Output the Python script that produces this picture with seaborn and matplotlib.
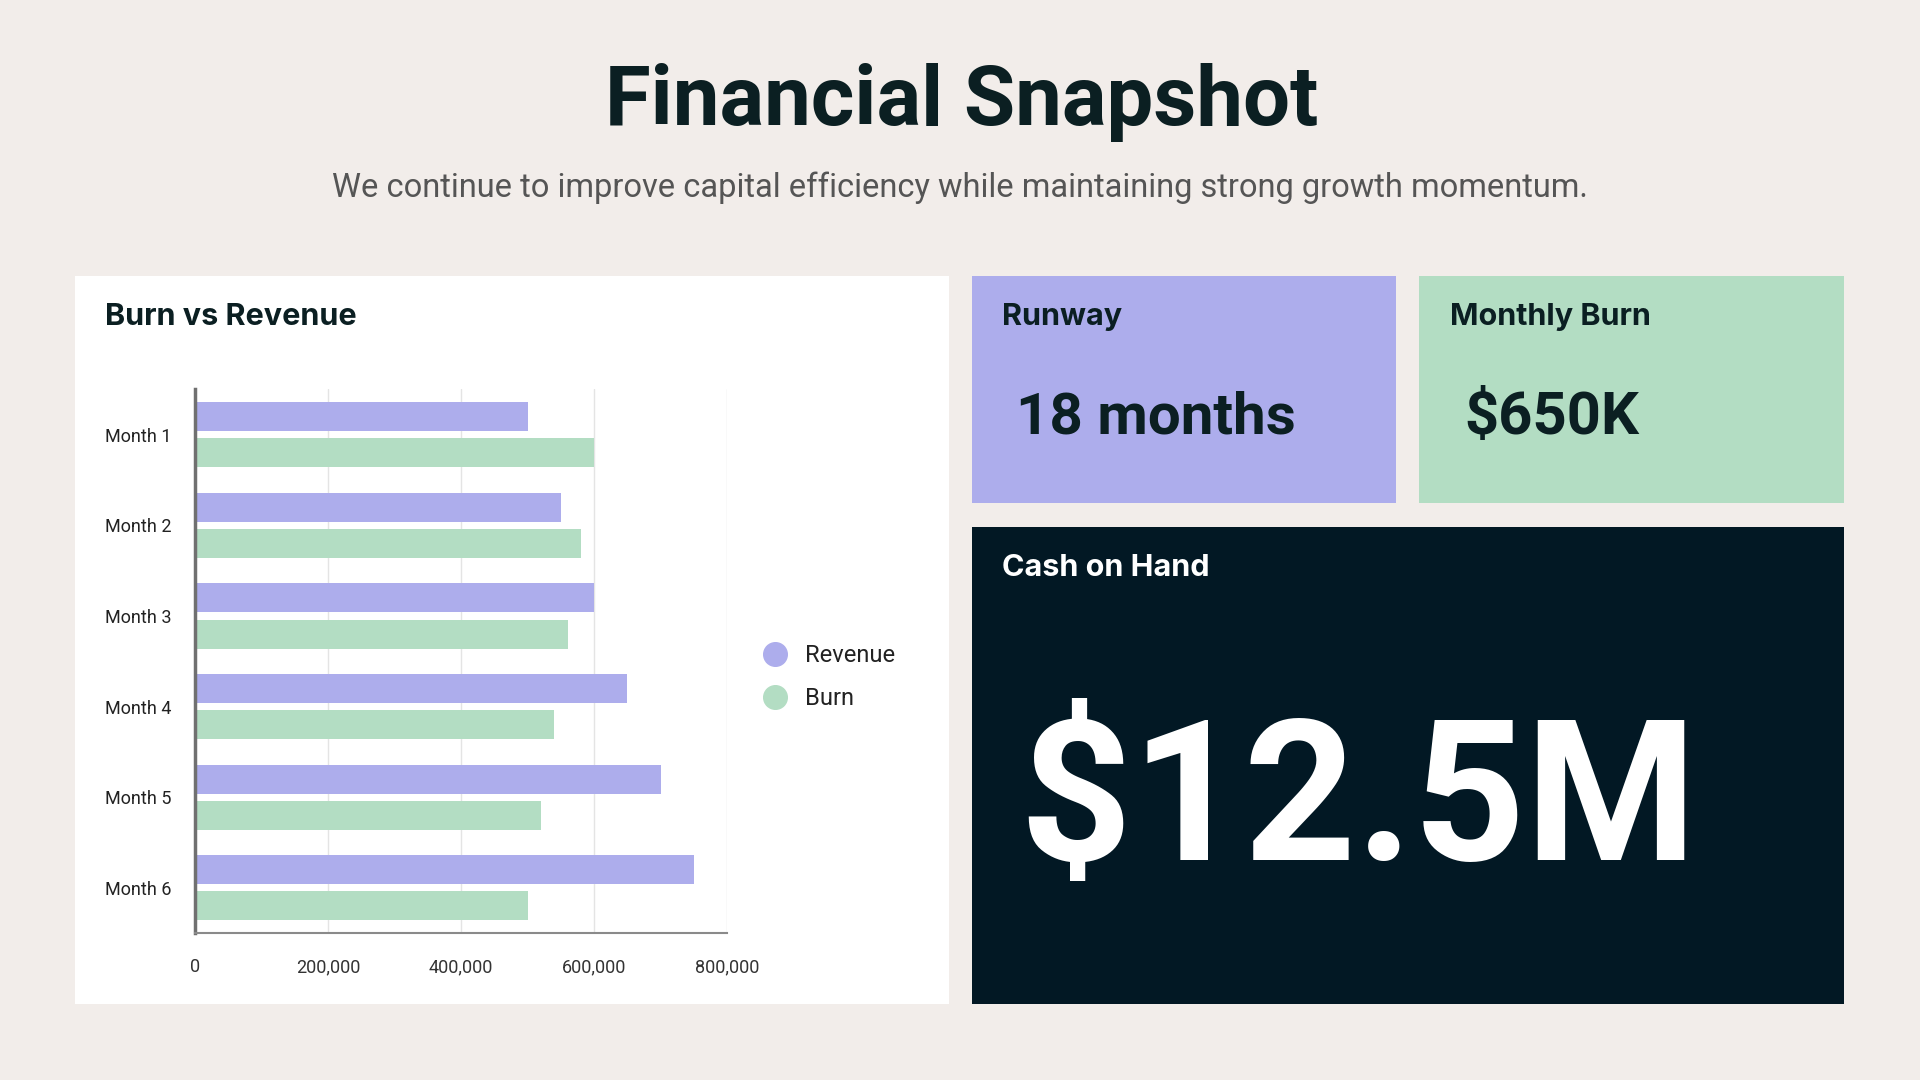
import pandas as pd
import seaborn as sns
import matplotlib.pyplot as plt
from matplotlib.patches import Rectangle
from matplotlib.lines import Line2D

months = ["Month 1", "Month 2", "Month 3", "Month 4", "Month 5", "Month 6"]
revenue = [500000, 550000, 600000, 650000, 700000, 750000]
burn = [600000, 580000, 560000, 540000, 520000, 500000]
x_ticks = [0, 200000, 400000, 600000, 800000]

title = "Financial Snapshot"
subtitle = "We continue to improve capital efficiency while maintaining strong growth momentum."
runway_value = "18 months"
monthly_burn_value = "$650K"
cash_value = "$12.5M"

bg_col = "#F2EDEA"
purple = "#ADADEC"
green = "#B3DDC3"
navy = "#021824"
dark = "#0B1F22"

sns.set_theme(style="white")
plt.rcParams['font.family'] = ['Roboto', 'DejaVu Sans']

df = pd.DataFrame({
    "month": months * 2,
    "value": revenue + burn,
    "series": ["Revenue"] * len(months) + ["Burn"] * len(months),
})

W, H = 1568, 882  # reference layout units
fig = plt.figure(figsize=(19.2, 10.8), dpi=100, facecolor=bg_col)

# background canvas in reference pixel units
bg = fig.add_axes([0, 0, 1, 1])
bg.set_xlim(0, W)
bg.set_ylim(H, 0)
bg.axis("off")
bg.set_facecolor(bg_col)

def box(x0, y0, x1, y1, color):
    bg.add_patch(Rectangle((x0, y0), x1 - x0, y1 - y0, facecolor=color, edgecolor="none"))

box(61, 225, 775, 820, "white")
box(794, 225, 1140, 411, purple)
box(1159, 225, 1506, 411, green)
box(794, 430, 1506, 820, navy)

bg.text(785, 84, title, ha="center", va="center", fontsize=60, fontweight="bold",
        color=dark)
bg.text(784, 153, subtitle, ha="center", va="center", fontsize=23.5, color="#555555")

head = dict(fontsize=22, fontweight="bold", family=["Inter", "DejaVu Sans"], va="center", ha="left")
bg.text(86, 259, "Burn vs Revenue", color=dark, **head)
bg.text(818, 259, "Runway", color=dark, **head)
bg.text(1184, 259, "Monthly Burn", color=dark, **head)
bg.text(818, 464, "Cash on Hand", color="white", **head)

big = dict(fontweight="bold", va="center", ha="left")
bg.text(830, 341, runway_value, fontsize=42, color=dark, **big)
bg.text(1196, 341, monthly_burn_value, fontsize=43, color=dark, **big)
bg.text(832, 658, cash_value, fontsize=141, color="white", **big)

# chart axes
ax_l, ax_r, ax_t, ax_b = 159, 594, 318, 762
ax = fig.add_axes([ax_l / W, 1 - ax_b / H, (ax_r - ax_l) / W, (ax_b - ax_t) / H])
ax.set_facecolor("white")
sns.barplot(data=df, y="month", x="value", hue="series", orient="h",
            palette={"Revenue": purple, "Burn": green}, gap=0.2,
            linewidth=0, saturation=1, legend=False, ax=ax)
ax.set_xlim(0, 800000)
ax.set_xticks(x_ticks)
ax.set_xticklabels([f"{t:,}" for t in x_ticks], fontsize=13, color="#333333")
ax.tick_params(axis="y", labelsize=13, labelcolor="#222222", pad=17, length=0)
ax.tick_params(axis="x", pad=18, length=0)
ax.set_xlabel("")
ax.set_ylabel("")
ax.set_axisbelow(True)
ax.grid(axis="x", color="#E4E4E4", linewidth=1)
ax.grid(axis="y", visible=False)
for s in ["top", "right"]:
    ax.spines[s].set_visible(False)
ax.spines["left"].set_color("#707070")
ax.spines["left"].set_linewidth(2.5)
ax.spines["bottom"].set_color("#8A8A8A")
ax.spines["bottom"].set_linewidth(1.5)

handles = [Line2D([], [], marker="o", ls="", markersize=17, color=purple),
           Line2D([], [], marker="o", ls="", markersize=17, color=green)]
fig.legend(handles, ["Revenue", "Burn"], loc="center left",
           bbox_to_anchor=(596 / W, 1 - 553 / H), frameon=False, fontsize=17,
           handletextpad=0.3, labelspacing=0.85, labelcolor="#222222")

fig.savefig("out.png", dpi=100, facecolor=bg_col)
